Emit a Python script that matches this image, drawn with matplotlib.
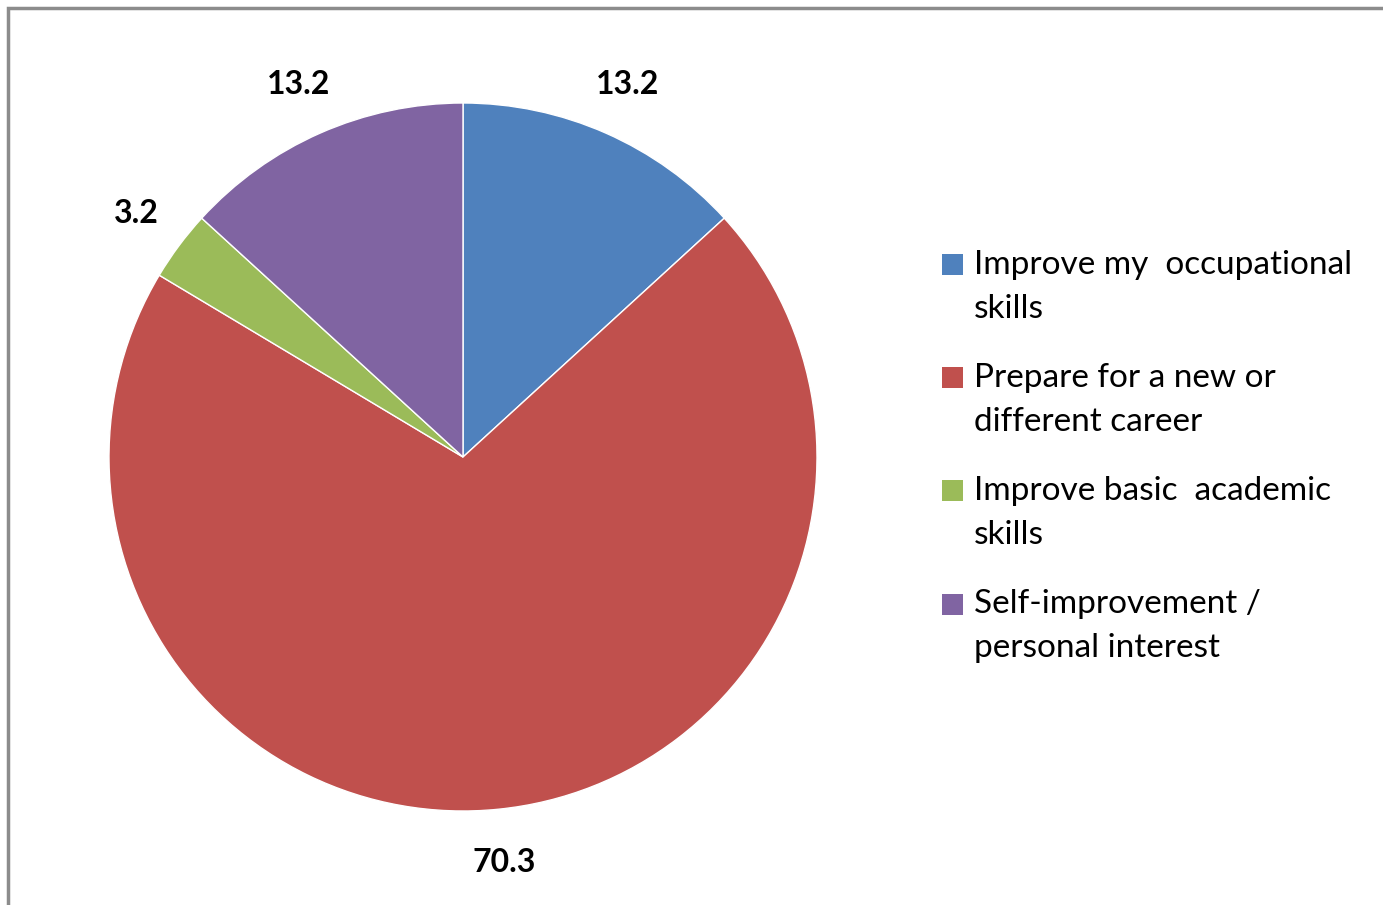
import matplotlib
matplotlib.use("Agg")
import matplotlib.pyplot as plt
from matplotlib.patches import Rectangle

# data
categories = [
    "Improve my  occupational\nskills",
    "Prepare for a new or\ndifferent career",
    "Improve basic  academic\nskills",
    "Self-improvement /\npersonal interest",
]
values = [13.2, 70.3, 3.2, 13.2]
colors = ["#4F81BD", "#C0504D", "#9BBB59", "#8064A2"]

W, H = 1383, 905
fig = plt.figure(figsize=(W / 100, H / 100), dpi=100)
plt.rcParams['font.family'] = ['Lato', 'DejaVu Sans']

# outer border (only left and top edges visible)
fig.patches.append(Rectangle((8 / W, -0.1), 2.0, 1.1 - 8 / H, transform=fig.transFigure,
                             fill=False, edgecolor="#8c8c8c", linewidth=2.5))

# pie axes: centre (463, 457) px, radius 354 px
cx, cy, r = 463, 457, 354
ax = fig.add_axes([(cx - r) / W, (H - cy - r) / H, 2 * r / W, 2 * r / H])
total = sum(values)
wedges, texts, autotexts = ax.pie(
    values, colors=colors, startangle=90, counterclock=False, radius=1,
    autopct=lambda p: f"{p * total / 100:.1f}", pctdistance=1.15,
    wedgeprops=dict(edgecolor="white", linewidth=1),
    textprops=dict(fontsize=23, fontweight="bold", color="black"))
ax.set_xlim(-1, 1)
ax.set_ylim(-1, 1)
ax.set_aspect("equal")
ax.axis("off")

# legend drawn by hand so the swatch sits beside the first line
sq = 21
x0, y0, step = 942, 265, 113
for i, (lab, col) in enumerate(zip(categories, colors)):
    yc = y0 + i * step
    fig.patches.append(Rectangle((x0 / W, (H - yc - sq / 2) / H), sq / W, sq / H,
                                 transform=fig.transFigure, facecolor=col, edgecolor="none"))
    fig.text(974 / W, (H - yc + 15) / H, lab, fontsize=24, va="top", ha="left",
             linespacing=1.58, color="black")

fig.savefig("out.png", dpi=100)
